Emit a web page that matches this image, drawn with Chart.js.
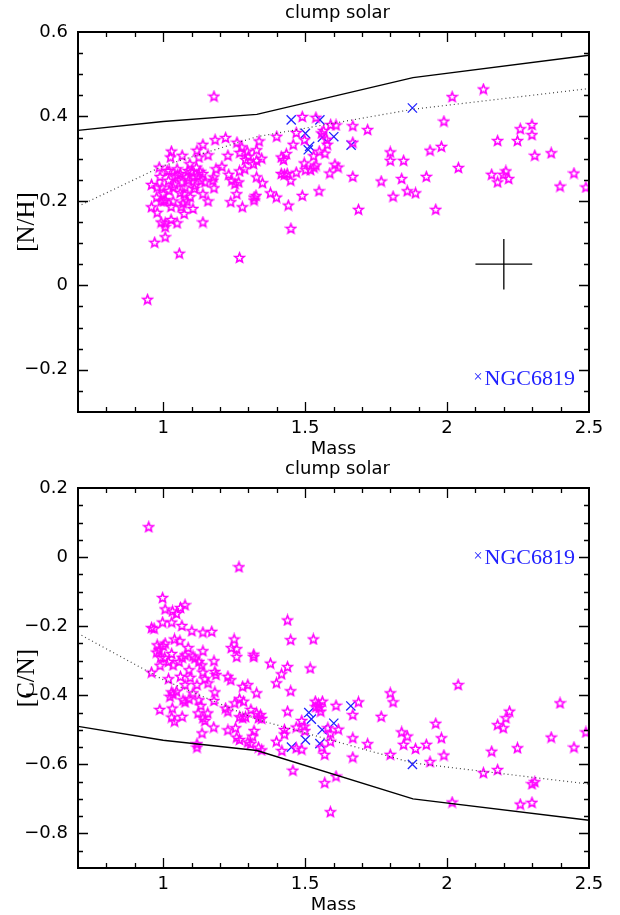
<!DOCTYPE html>
<html>
<head>
<meta charset="utf-8">
<title>clump solar</title>
<script src="https://cdn.jsdelivr.net/npm/chart.js@4.4.1/dist/chart.umd.min.js"></script>
<style>
  body { margin: 0; background: #fff; }
  #wrap { position: relative; width: 620px; height: 915px; }
  #wrap canvas { position: absolute; left: 0; }
</style>
</head>
<body>
<div id="wrap">
  <canvas id="nhChart" width="620" height="458" style="top:0"></canvas>
  <canvas id="cnChart" width="620" height="457" style="top:458px"></canvas>
</div>
<script>
// --- model tracks (same masses for both panels) ---
const modelMass = [0.7, 1.0, 1.33, 1.88, 2.5];
const nhSolid   = [0.367, 0.388, 0.405, 0.492, 0.545];
const nhDotted  = [0.187, 0.283, 0.352, 0.417, 0.466];
const cnSolid   = [-0.49, -0.53, -0.56, -0.70, -0.762];
const cnDotted  = [-0.221, -0.355, -0.47, -0.596, -0.657];

// --- field clump stars: [mass, [N/H]] ---
const nhStars = [
  [0.945,-0.033],[1.179,0.448],[2.128,0.465],[2.018,0.447],[1.989,0.389],[1.98,0.329],[1.94,0.32],
  [2.04,0.279],[1.927,0.258],[1.96,0.18],[1.889,0.219],[1.86,0.224],[1.84,0.253],[1.847,0.296],
  [1.8,0.316],[1.8,0.296],[1.81,0.211],[1.768,0.247],[1.72,0.369],[1.688,0.18],[1.668,0.258],
  [1.668,0.339],[1.668,0.378],[1.49,0.4],[1.538,0.398],[1.609,0.38],[1.59,0.381],[1.565,0.367],
  [1.558,0.361],[1.576,0.346],[1.578,0.334],[1.57,0.313],[1.55,0.318],[1.53,0.307],[1.498,0.345],
  [1.469,0.362],[1.458,0.334],[1.434,0.312],[1.424,0.298],[1.416,0.304],[1.4,0.353],[1.347,0.301],
  [1.329,0.321],[1.338,0.342],[1.497,0.29],[1.502,0.274],[1.519,0.274],[1.538,0.285],[1.531,0.28],
  [1.605,0.287],[1.616,0.28],[1.587,0.266],[1.549,0.224],[1.49,0.213],[1.469,0.268],[1.449,0.249],
  [1.437,0.265],[1.427,0.263],[1.416,0.265],[1.441,0.19],[1.45,0.135],[1.378,0.219],[1.399,0.209],
  [1.35,0.243],[1.329,0.257],[1.327,0.213],[1.32,0.202],[1.32,0.209],[1.329,0.296],[1.318,0.288],
  [1.3,0.306],[1.29,0.298],[1.296,0.318],[1.277,0.328],[1.27,0.315],[1.26,0.339],[1.287,0.276],
  [1.269,0.271],[1.259,0.217],[1.266,0.245],[1.253,0.241],[1.242,0.249],[1.231,0.263],[1.238,0.198],
  [1.279,0.186],[1.269,0.066],[1.228,0.308],[1.22,0.35],[1.207,0.282],[1.183,0.345],[1.186,0.276],
  [1.178,0.257],[1.175,0.249],[1.179,0.231],[1.158,0.309],[1.158,0.2],[1.14,0.334],[1.14,0.15],
  [1.126,0.304],[1.119,0.32],[1.117,0.28],[1.14,0.265],[1.133,0.249],[1.147,0.245],[1.14,0.217],
  [1.108,0.257],[1.112,0.237],[1.094,0.288],[1.088,0.272],[1.084,0.257],[1.077,0.233],[1.074,0.217],
  [1.084,0.2],[1.105,0.182],[1.067,0.308],[1.066,0.245],[1.06,0.265],[1.063,0.186],[1.074,0.17],
  [1.057,0.076],[1.049,0.276],[1.042,0.257],[1.035,0.233],[1.035,0.2],[1.049,0.148],[1.029,0.318],
  [1.026,0.304],[1.021,0.272],[1.019,0.249],[1.021,0.225],[1.028,0.187],[1.028,0.156],[1.014,0.272],
  [1.007,0.203],[1.002,0.2],[1.007,0.148],[1.007,0.139],[1.007,0.115],[1.0,0.217],[0.993,0.2],
  [0.989,0.258],[0.986,0.28],[0.979,0.233],[0.977,0.209],[0.979,0.173],[0.97,0.102],[0.959,0.239],
  [0.959,0.186],[0.993,0.15],[0.996,0.233],[1.05,0.262],[1.09,0.25],[1.1,0.27],[1.12,0.26],
  [1.13,0.27],[1.06,0.22],[1.04,0.24],[1.11,0.23],[1.095,0.21],[1.07,0.195],
  [2.178,0.343],[2.157,0.263],[2.178,0.245],[2.198,0.263],[2.207,0.271],[2.217,0.253],[2.248,0.343],
  [2.258,0.371],[2.299,0.381],[2.299,0.357],[2.309,0.308],[2.367,0.314],[2.398,0.235],[2.447,0.266],
  [2.489,0.233]
];

// --- field clump stars: [mass, [C/N]] ---
const cnStars = [
  [0.949,0.088],[1.267,-0.028],[0.998,-0.117],[1.077,-0.138],[1.061,-0.146],[1.007,-0.15],[1.033,-0.156],
  [1.047,-0.163],[1.066,-0.198],[1.03,-0.188],[0.998,-0.188],[0.959,-0.204],[0.968,-0.206],[1.101,-0.213],
  [1.14,-0.217],[1.171,-0.215],[1.04,-0.237],[1.059,-0.242],[1.007,-0.249],[1.0,-0.256],[0.979,-0.254],
  [0.986,-0.268],[0.977,-0.275],[0.991,-0.29],[0.989,-0.313],[1.005,-0.29],[1.019,-0.302],[1.03,-0.279],
  [1.035,-0.312],[1.056,-0.302],[1.067,-0.29],[1.077,-0.283],[1.088,-0.262],[1.105,-0.286],[1.112,-0.292],
  [1.126,-0.302],[1.136,-0.312],[1.14,-0.271],[1.091,-0.326],[1.095,-0.348],[1.077,-0.369],[1.061,-0.345],
  [1.019,-0.352],[0.959,-0.333],[1.14,-0.333],[1.147,-0.352],[1.158,-0.364],[1.182,-0.331],[1.179,-0.3],
  [1.186,-0.34],[1.182,-0.39],[1.179,-0.415],[1.178,-0.492],[1.119,-0.369],[1.105,-0.393],[1.091,-0.41],
  [1.077,-0.419],[1.07,-0.413],[1.047,-0.388],[1.035,-0.396],[1.03,-0.39],[1.024,-0.403],[1.032,-0.437],
  [1.03,-0.463],[1.04,-0.475],[1.067,-0.461],[0.988,-0.441],[1.126,-0.413],[1.133,-0.429],[1.123,-0.451],
  [1.14,-0.465],[1.147,-0.473],[1.157,-0.451],[1.137,-0.509],[1.119,-0.54],[1.119,-0.55],[1.228,-0.446],
  [1.22,-0.437],[1.228,-0.345],[1.238,-0.355],[1.24,-0.262],[1.25,-0.237],[1.259,-0.265],[1.259,-0.288],
  [1.228,-0.5],[1.255,-0.494],[1.259,-0.521],[1.269,-0.528],[1.252,-0.422],[1.269,-0.41],[1.283,-0.417],
  [1.28,-0.374],[1.298,-0.369],[1.269,-0.462],[1.28,-0.465],[1.29,-0.462],[1.298,-0.535],[1.308,-0.54],
  [1.315,-0.518],[1.32,-0.502],[1.309,-0.441],[1.329,-0.451],[1.336,-0.465],[1.343,-0.456],[1.347,-0.467],
  [1.329,-0.393],[1.319,-0.281],[1.319,-0.288],[1.336,-0.55],[1.347,-0.558],[1.378,-0.307],[1.399,-0.364],
  [1.417,-0.338],[1.438,-0.317],[1.438,-0.182],[1.449,-0.239],[1.529,-0.237],[1.518,-0.321],[1.449,-0.387],
  [1.438,-0.446],[1.399,-0.533],[1.418,-0.56],[1.427,-0.499],[1.427,-0.512],[1.457,-0.617],[1.469,-0.492],
  [1.488,-0.473],[1.497,-0.489],[1.499,-0.502],[1.469,-0.552],[1.488,-0.556],[1.536,-0.417],[1.547,-0.425],
  [1.538,-0.433],[1.555,-0.446],[1.561,-0.417],[1.55,-0.435],[1.559,-0.55],[1.569,-0.571],[1.589,-0.533],
  [1.589,-0.509],[1.58,-0.494],[1.569,-0.653],[1.589,-0.737],[1.609,-0.429],[1.617,-0.498],[1.609,-0.634],
  [1.668,-0.456],[1.668,-0.523],[1.668,-0.579],[1.688,-0.419],[1.72,-0.54],[1.768,-0.461],[1.8,-0.393],
  [1.81,-0.419],[1.8,-0.571],[1.84,-0.506],[1.847,-0.542],[1.86,-0.518],[1.889,-0.554],[1.927,-0.542],
  [1.94,-0.592],[1.96,-0.481],[1.98,-0.523],[1.989,-0.573],[2.018,-0.709],[2.039,-0.369],[2.128,-0.624],
  [2.157,-0.562],[2.178,-0.485],[2.178,-0.615],[2.198,-0.494],[2.207,-0.465],[2.22,-0.446],[2.248,-0.552],
  [2.258,-0.715],[2.299,-0.71],[2.299,-0.656],[2.309,-0.65],[2.367,-0.521],[2.398,-0.422],[2.447,-0.55],
  [2.489,-0.506]
];

// --- NGC6819 members ---
const nhCluster = [[1.451,0.392],[1.552,0.392],[1.501,0.36],[1.561,0.351],[1.601,0.352],
                   [1.516,0.329],[1.511,0.321],[1.662,0.332],[1.878,0.42]];
const cnCluster = [[1.513,-0.45],[1.522,-0.469],[1.501,-0.529],[1.452,-0.55],[1.56,-0.5],
                   [1.601,-0.481],[1.552,-0.54],[1.661,-0.431],[1.878,-0.6]];

// typical error bar: centre and half widths
const errCentre = [2.2, 0.05];
const errHalf = [0.1, 0.06];

// axes
const massRange = [0.7, 2.5];
const massLabels = [1, 1.5, 2, 2.5];
const nhRange = [-0.3, 0.6];
const nhLabels = [-0.2, 0, 0.2, 0.4, 0.6];
const cnRange = [-0.9, 0.2];
const cnLabels = [-0.8, -0.6, -0.4, -0.2, 0, 0.2];

const MAGENTA = '#ff00ff';
const BLUE = '#2222ff';

const pts = pairs => pairs.map(([x, y]) => ({x, y}));
const track = (ys) => modelMass.map((m, i) => ({x: m, y: ys[i]}));

// hollow five-pointed star used as point marker
function starMarker(color) {
  const c = document.createElement('canvas');
  c.width = 13; c.height = 13;
  const g = c.getContext('2d');
  g.strokeStyle = color;
  g.lineWidth = 1.6;
  g.beginPath();
  for (let i = 0; i < 10; i++) {
    const r = i % 2 ? 2.2 : 5.0;
    const a = -Math.PI / 2 + i * Math.PI / 5;
    const px = 6.5 + r * Math.cos(a), py = 7 + r * Math.sin(a);
    if (i === 0) g.moveTo(px, py); else g.lineTo(px, py);
  }
  g.closePath();
  g.stroke();
  return c;
}
const star = starMarker(MAGENTA);

// minor tick every `step`; labels come from fmt()
function tickBuilder(range, step) {
  return scale => {
    const out = [];
    const n = Math.round((range[1] - range[0]) / step);
    for (let i = 0; i <= n; i++) out.push({value: +(range[0] + i * step).toFixed(3)});
    scale.ticks = out;
  };
}
const fmt = labels => v => {
  if (!labels.some(l => Math.abs(l - v) < 1e-6)) return '';
  return v === 0 ? '0' : String(v).replace('-', '\u2212');
};

// box with inward ticks on all four sides
const framePlugin = {
  id: 'frame',
  afterDatasetsDraw(chart) {
    const {ctx, chartArea: a, scales: {x, y}} = chart;
    ctx.save();
    ctx.strokeStyle = '#000';
    ctx.lineWidth = 1.3;
    ctx.beginPath();
    x.ticks.forEach(t => {
      const px = Math.round(x.getPixelForValue(t.value)) + 0.5;
      if (px <= a.left + 2 || px >= a.right - 2) return;
      const len = t.label ? 10 : 5;
      ctx.moveTo(px, a.bottom); ctx.lineTo(px, a.bottom - len);
      ctx.moveTo(px, a.top); ctx.lineTo(px, a.top + len);
    });
    y.ticks.forEach(t => {
      const py = Math.round(y.getPixelForValue(t.value)) + 0.5;
      if (py <= a.top + 2 || py >= a.bottom - 2) return;
      const len = t.label ? 10 : 5;
      ctx.moveTo(a.left, py); ctx.lineTo(a.left + len, py);
      ctx.moveTo(a.right, py); ctx.lineTo(a.right - len, py);
    });
    ctx.stroke();
    ctx.lineWidth = 2;
    ctx.strokeRect(a.left, a.top, a.right - a.left, a.bottom - a.top);
    ctx.restore();
  }
};

// panel title and the NGC6819 key
const panelText = {
  id: 'panelText',
  afterDraw(chart, args, o) {
    const {ctx, chartArea: a, scales} = chart;
    ctx.save();
    ctx.fillStyle = '#000';
    ctx.font = '18px "DejaVu Sans"';
    ctx.textAlign = 'center';
    ctx.textBaseline = 'middle';
    ctx.fillText(o.title, (a.left + a.right) / 2 + 4, a.top - 19);

    const ly = scales.y.getPixelForValue(o.keyY);
    const rx = a.right - 14;
    ctx.fillStyle = BLUE;
    ctx.font = '22px "Liberation Serif"';
    ctx.textAlign = 'right';
    ctx.fillText('NGC6819', rx, ly + 1);
    const w = ctx.measureText('NGC6819').width;
    ctx.font = '16px "Liberation Serif"';
    ctx.fillText('\u00d7', rx - w - 2, ly);
    ctx.restore();
  }
};

function makePanel(id, cfg) {
  const el = document.getElementById(id);
  if (!el) return;
  const datasets = [
    {data: track(cfg.solid), showLine: true, borderColor: '#000', borderWidth: 1.4,
     pointRadius: 0, tension: 0},
    {data: track(cfg.dotted), showLine: true, borderColor: '#444', borderWidth: 1.2,
     borderDash: [1, 3], pointRadius: 0, tension: 0},
    {data: pts(cfg.stars), pointStyle: star, pointRadius: 5},
    {data: pts(cfg.cluster), pointStyle: 'crossRot', pointRadius: 6.5,
     borderColor: BLUE, borderWidth: 1.3, backgroundColor: BLUE}
  ];
  if (cfg.errorBar) {
    const [cx, cy] = errCentre, [hx, hy] = errHalf;
    datasets.push(
      {data: [{x: cx - hx, y: cy}, {x: cx + hx, y: cy}], showLine: true,
       borderColor: '#000', borderWidth: 1.3, pointRadius: 0},
      {data: [{x: cx, y: cy - hy}, {x: cx, y: cy + hy}], showLine: true,
       borderColor: '#000', borderWidth: 1.3, pointRadius: 0}
    );
  }
  new Chart(el, {
    type: 'scatter',
    data: {datasets},
    plugins: [framePlugin, panelText],
    options: {
      responsive: false,
      animation: false,
      events: [],
      layout: {padding: {left: 0, right: 31, top: cfg.top, bottom: 0}},
      scales: {
        x: {
          type: 'linear', min: massRange[0], max: massRange[1],
          afterBuildTicks: tickBuilder(massRange, 0.1),
          afterFit: s => { s.height = cfg.xHeight; },
          grid: {display: false, drawTicks: false},
          border: {display: false},
          ticks: {callback: fmt(massLabels), autoSkip: false, maxRotation: 0, padding: 6,
                  color: '#000', font: {family: 'DejaVu Sans', size: 18}},
          title: {display: true, text: 'Mass', color: '#000', padding: {top: 0, bottom: cfg.massPad},
                  font: {family: 'DejaVu Sans', size: 18}}
        },
        y: {
          type: 'linear', min: cfg.range[0], max: cfg.range[1],
          afterBuildTicks: tickBuilder(cfg.range, 0.05),
          afterFit: s => { s.width = 78; },
          grid: {display: false, drawTicks: false},
          border: {display: false},
          ticks: {callback: fmt(cfg.labels), autoSkip: false, padding: 10,
                  color: '#000', font: {family: 'DejaVu Sans', size: 18}},
          title: {display: true, text: cfg.yTitle, color: '#000', padding: {top: 12, bottom: 0},
                  font: {family: 'Liberation Serif', size: 25}}
        }
      },
      plugins: {
        legend: {display: false},
        tooltip: {enabled: false},
        panelText: {title: 'clump solar', keyY: cfg.keyY}
      }
    }
  });
}

makePanel('nhChart', {
  solid: nhSolid, dotted: nhDotted, stars: nhStars, cluster: nhCluster,
  range: nhRange, labels: nhLabels, yTitle: '[N/H]', keyY: -0.22,
  errorBar: true, top: 32, xHeight: 46, massPad: -2
});
makePanel('cnChart', {
  solid: cnSolid, dotted: cnDotted, stars: cnStars, cluster: cnCluster,
  range: cnRange, labels: cnLabels, yTitle: '[C/N]', keyY: 0,
  errorBar: false, top: 30, xHeight: 47, massPad: -1
});
</script>
</body>
</html>
